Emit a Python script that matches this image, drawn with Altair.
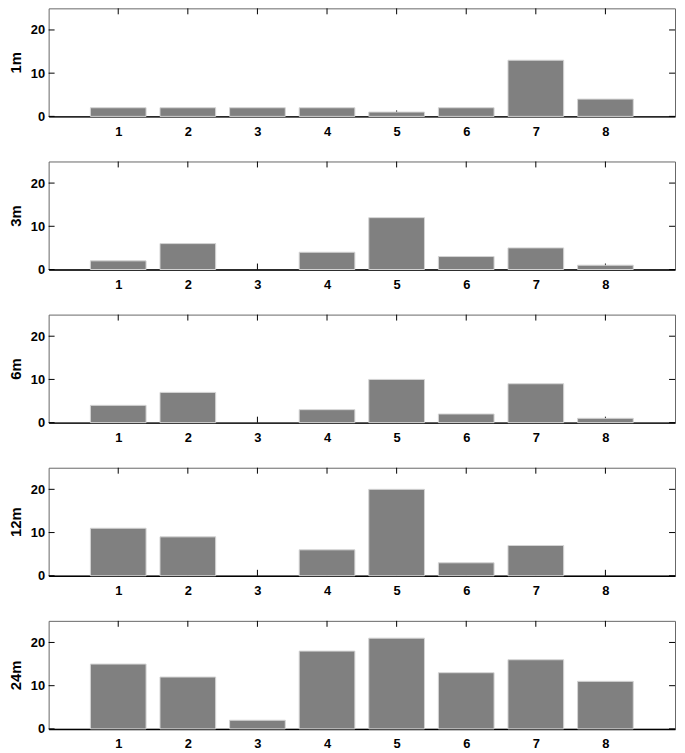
import altair as alt
import pandas as pd

categories = [1, 2, 3, 4, 5, 6, 7, 8]
panel_names = ["1m", "3m", "6m", "12m", "24m"]
counts_1m = [2, 2, 2, 2, 1, 2, 13, 4]
counts_3m = [2, 6, 0, 4, 12, 3, 5, 1]
counts_6m = [4, 7, 0, 3, 10, 2, 9, 1]
counts_12m = [11, 9, 0, 6, 20, 3, 7, 0]
counts_24m = [15, 12, 2, 18, 21, 13, 16, 11]
y_tick_values = [0, 10, 20]

all_counts = [counts_1m, counts_3m, counts_6m, counts_12m, counts_24m]

W, H = 632, 109
TL = 6  # inward tick length (px)
FONT = "Liberation Sans"


def panel(name, values):
    xscale = alt.Scale(domain=[0, 9], nice=False, zero=False)
    yscale = alt.Scale(domain=[0, 25], nice=False)
    xaxis = alt.Axis(
        values=categories,
        title=None,
        ticks=False,
        tickSize=0,
        grid=False,
        format="d",
        labelFontWeight="bold",
        labelFontSize=13,
        labelPadding=9,
        labelColor="black",
        domainColor="black",
        domainWidth=1.5,
    )
    yaxis = alt.Axis(
        values=y_tick_values,
        title=name,
        ticks=False,
        tickSize=0,
        domain=False,
        grid=False,
        labelFontWeight="bold",
        labelFontSize=13,
        labelPadding=4,
        labelColor="black",
        titleFontSize=15,
        titleFontWeight="bold",
        titleColor="black",
        titlePadding=7,
    )
    df = pd.DataFrame({"cat": categories, "count": values})
    bars = (
        alt.Chart(df)
        .transform_filter("datum.count > 0")
        .transform_calculate(x0="datum.cat - 0.4", x1="datum.cat + 0.4")
        .mark_bar(color="#808080", stroke="#d4d4d4", strokeWidth=1)
        .encode(
            x=alt.X("x0:Q", scale=xscale, axis=xaxis),
            x2="x1:Q",
            y=alt.Y("count:Q", scale=yscale, axis=yaxis),
            y2=alt.datum(0),
        )
    )
    xt = pd.DataFrame({"cat": categories})
    yt = pd.DataFrame({"v": y_tick_values})
    rule_style = dict(color="black", strokeWidth=1)
    top_ticks = alt.Chart(xt).mark_rule(**rule_style).encode(
        x=alt.X("cat:Q", scale=xscale, axis=xaxis), y=alt.value(0), y2=alt.value(TL)
    )
    bottom_ticks = alt.Chart(xt).mark_rule(**rule_style).encode(
        x=alt.X("cat:Q", scale=xscale, axis=xaxis), y=alt.value(H), y2=alt.value(H - TL)
    )
    left_ticks = alt.Chart(yt).mark_rule(**rule_style).encode(
        y=alt.Y("v:Q", scale=yscale, axis=yaxis), x=alt.value(0), x2=alt.value(TL)
    )
    right_ticks = alt.Chart(yt).mark_rule(**rule_style).encode(
        y=alt.Y("v:Q", scale=yscale, axis=yaxis), x=alt.value(W), x2=alt.value(W - TL)
    )
    return alt.layer(top_ticks, bottom_ticks, left_ticks, right_ticks, bars).properties(width=W, height=H)


chart = (
    alt.vconcat(*[panel(n, v) for n, v in zip(panel_names, all_counts)], spacing=21.5)
    .properties(padding={"left": 0, "top": -4, "right": 1, "bottom": 1})
    .configure_view(stroke="#666666", strokeWidth=1)
    .configure_axis(labelFont=FONT, titleFont=FONT)
)

chart.save("out.html", embed_options={"renderer": "svg", "actions": False})
